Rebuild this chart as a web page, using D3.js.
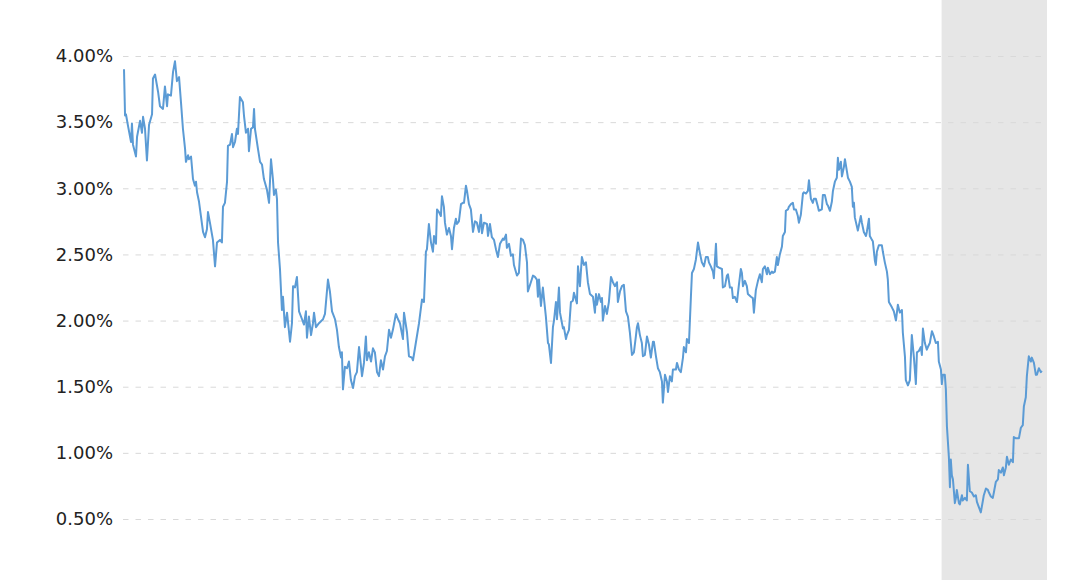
<!DOCTYPE html>
<html>
<head>
<meta charset="utf-8">
<script src="https://cdn.jsdelivr.net/npm/d3@7"></script>
<style>
  html, body { margin: 0; padding: 0; background: #fff; }
  .axis text { font-family: "DejaVu Sans", Verdana, sans-serif; font-size: 18px; fill: #222; }
  .axis .domain { display: none; }
  .axis line { stroke: #d9d9d9; stroke-dasharray: 5.5, 7; }
</style>
</head>
<body>
<div id="chart"></div>
<script>
// weekly 10-year yield (weeks since startDate)
var startDate = "2009-08-21";
var endDate = "2021-06-07";
var recession = ["2020-02-01", "2021-06-07"];
var yTicks = [0.5, 1.0, 1.5, 2.0, 2.5, 3.0, 3.5, 4.0];

var weeks = [
  0, 0.7, 1.3, 2.7, 4.7, 5.3, 6, 8, 8.7, 10.7, 12, 12.7, 14, 15.3, 16.7, 18.7, 19.3, 20.7, 22.7, 24,
  26, 27.3, 28.7, 29.3, 31.3, 32.7, 34, 35.3, 36.7, 38, 39.3, 40.7, 41.3, 42.7, 43.3, 44.7, 46, 47.3, 48, 48.7,
  50, 51.3, 52.7, 54, 55.3, 56, 57.3, 59.3, 60.7, 62, 64, 65.3, 66, 67.3, 68.7, 69.3, 70.7, 72, 72.7, 74,
  75.3, 76, 77.3, 79.3, 80, 81.3, 82.7, 83.3, 84.7, 86, 86.7, 87.3, 89.3, 90.7, 92, 93.3, 95.3, 96.7, 98, 99.3,
  100, 101.3,
  102, 102.7, 104, 105.3, 106, 107.3, 108.7, 110.7, 112, 112.7, 114, 115.3, 116.7, 118.7, 120, 121.3, 122, 123.3,
  124.7, 126, 126.7, 128, 130, 132.7, 134, 136, 137.3, 138.7, 140.7, 142, 143.3, 144.7, 145.3, 146, 147.3, 148.7,
  150, 151.3, 152.7, 154, 155.3, 156.7, 158.7, 160, 161.3, 162, 163.3, 164.7, 166, 167.3, 168.7, 170, 171.3,
  172.7, 174, 175.3, 176.7, 178, 179.3, 181.3, 182.7, 184, 186, 186.7, 188.7, 190, 192, 192.7, 194.7, 196.7,
  198.7, 200, 201.3, 202, 203.3, 204.7, 206, 206.7, 208, 208.7, 210, 211.3, 212, 213.3, 214, 215.3, 216.7, 218,
  218.7, 220, 221.3, 222, 223.3, 224.7, 226, 226.7, 228, 228.7, 230, 231.3, 232.7, 234, 235.3, 236.7, 238, 238.7,
  240, 242, 242.7, 244, 245.3, 246.7, 248, 249.3, 250.7, 252.7, 253.3, 254.7, 255.3, 256.7, 258, 259.3, 260, 262,
  263.3, 264.7, 266, 267.3, 268.7, 269.3, 271.3, 272.7, 274, 275.3, 276, 276.7, 278, 279.3, 280, 281.3, 282.7,
  283.3, 284.7, 286, 286.7, 288, 288.7, 290, 290.7, 292.7, 293.3, 294.7, 295.3, 296.7, 298, 299.3, 300, 302, 302.7,
  304, 305.3, 306.7, 308, 309.3, 310.7, 312.7, 314, 314.7, 315.3, 316.7, 318, 318.7, 319.3, 320.7, 322, 323.3,
  324.7, 326, 327.3, 328.7, 329.3, 330.7, 332, 333.3, 334.7, 336, 337.3, 338.7, 340, 341.3, 342, 342.7, 344, 345.3,
  346, 347.3, 348.7, 350, 351.3, 352.7, 353.3, 354.7, 356, 357.3, 358.7, 359.3, 360.7, 362, 362.7, 364, 365.3, 366,
  368, 368.7, 370, 371.3, 372.7, 373.3, 374.7, 375.3, 376.7, 378, 378.7, 380, 381.3, 382.7, 384, 385.3, 386.7, 388,
  389.3, 390, 391.3, 392.7, 393.3, 394.7, 395.3, 396.7, 398.7, 399.3, 400.7, 402, 402.7, 404, 405.3, 406, 407.3,
  408.7, 410,
  411.3, 412, 412.7, 414, 415.3, 416, 418, 419.3, 420, 421.3, 422.7, 424, 425.3, 426, 427.3, 428.7, 429.3, 430.7,
  432, 432.7, 434, 435.3, 436, 437.3, 438.7, 439.3, 440.7, 441.3, 442.7, 443.3, 444.7, 446, 446.7, 448, 449.3, 450,
  451.3, 452.7, 453.3, 454.7, 456, 456.7, 458, 459.3, 460, 461.3, 462.7, 463.3, 465.3, 466, 467.3, 468.7, 469.3,
  470.7, 472, 472.7, 474, 475.3, 476, 476.7, 478, 478.7, 480, 480.7, 482, 482.7, 484, 485.3, 486, 486.7, 487.3,
  488.7, 489.3, 491.3, 492, 493.3, 494.7, 495.3, 496.7, 497.3, 498.7, 499.3, 500.7, 501.3, 502, 503.3, 505.3, 506,
  507.3, 508.7, 509.3,
  510, 512, 513.3, 514.7, 516, 517.3, 518.7, 519.3, 520.7, 521.3, 522.7, 524, 525.3, 526.7, 528, 528.7, 530, 531.3,
  532, 532.7, 534, 535.3, 536, 537.3, 538.7, 540, 541.3, 542.7, 543.3, 544.7, 545.3, 546, 547.3, 548, 548.7, 550,
  550.7, 551.3, 552, 552.7, 554, 554.7, 555.3, 556.7, 557.3, 558.7, 559.3, 560.7, 562, 562.7, 564, 565.3, 566.7,
  568, 568.7, 570, 571.3, 572.7, 573.3, 574.7, 576, 576.7, 578, 579.3, 580, 581.3, 582.7, 583.3, 584.7, 586, 586.7,
  588, 588.7, 590, 591.3, 592.7, 593.3, 594.7, 596, 596.7, 598, 599.3, 600, 601.3, 602, 603.3, 604.7, 605.3, 606.7,
  608, 608.7, 610, 611.3, 612
];

var yields = [
  3.90, 3.55, 3.56, 3.47, 3.35, 3.49, 3.33, 3.24, 3.39, 3.51, 3.42, 3.54, 3.45, 3.21, 3.48, 3.56, 3.83, 3.86, 3.73, 3.62,
  3.60, 3.77, 3.62, 3.71, 3.70, 3.88, 3.96, 3.81, 3.84, 3.65, 3.45, 3.30, 3.20, 3.25, 3.22, 3.24, 3.07, 3.02, 3.05, 2.97,
  2.90, 2.79, 2.67, 2.63, 2.69, 2.82, 2.74, 2.61, 2.41, 2.59, 2.61, 2.59, 2.86, 2.89, 3.05, 3.32, 3.33, 3.41, 3.31, 3.35,
  3.45, 3.41, 3.69, 3.65, 3.55, 3.42, 3.45, 3.28, 3.45, 3.46, 3.60, 3.45, 3.30, 3.20, 3.18, 3.07, 2.99, 2.89, 3.22, 3.07,
  2.95, 2.99,
  2.92, 2.59, 2.39, 2.08, 2.18, 1.95, 2.06, 1.84, 1.98, 2.26, 2.25, 2.33, 2.07, 2.01, 1.97, 2.07, 1.87, 2.03,
  1.89, 1.98, 2.06, 1.95, 1.98, 2.01, 2.05, 2.31, 2.22, 2.07, 2.01, 1.93, 1.80, 1.72, 1.76, 1.48, 1.65, 1.64,
  1.69, 1.55, 1.49, 1.58, 1.61, 1.80, 1.58, 1.68, 1.88, 1.70, 1.76, 1.69, 1.79, 1.76, 1.61, 1.58, 1.70,
  1.63, 1.73, 1.77, 1.93, 1.87, 1.93, 2.05, 2.01, 1.98, 1.86, 2.06, 1.91, 1.73, 1.72, 1.70, 1.84, 1.98,
  2.16, 2.14, 2.52, 2.54, 2.73, 2.59, 2.52, 2.64, 2.58, 2.84, 2.82, 2.79, 2.94, 2.86, 2.74, 2.65, 2.70, 2.64,
  2.54, 2.70, 2.77, 2.73, 2.75, 2.88, 2.89, 2.89, 3.02, 2.98, 2.88, 2.84, 2.67, 2.75, 2.74, 2.67, 2.80, 2.66,
  2.74, 2.73, 2.64, 2.73, 2.63, 2.61, 2.54, 2.48, 2.58, 2.62, 2.61, 2.65, 2.55, 2.58, 2.49, 2.50, 2.42, 2.34,
  2.36, 2.62, 2.61, 2.57, 2.44, 2.22, 2.29, 2.34, 2.33, 2.31, 2.18, 2.31, 2.11, 2.25, 2.17, 2.03, 1.83,
  1.82, 1.68, 1.95, 2.00, 2.14, 2.01, 2.25, 2.06, 1.94, 1.95, 1.86, 1.89, 1.93, 2.14, 2.15, 2.21, 2.13, 2.41,
  2.26, 2.48, 2.42, 2.44, 2.29, 2.20, 2.18, 2.06, 2.20, 2.12, 2.20, 2.14, 2.17, 2.00, 2.11, 2.05, 2.14,
  2.33, 2.29, 2.26, 2.29, 2.14, 2.22, 2.26, 2.27, 2.07, 2.03, 1.91, 1.74, 1.76, 1.88, 1.95, 1.98, 1.89, 1.83,
  1.73, 1.74, 1.88, 1.82, 1.72, 1.84, 1.84, 1.73, 1.64, 1.61, 1.54, 1.38, 1.59, 1.54, 1.46, 1.58, 1.54, 1.63,
  1.63, 1.68, 1.63, 1.61, 1.72, 1.80, 1.76, 1.86, 1.83, 2.18, 2.36, 2.39, 2.46, 2.59, 2.51, 2.44, 2.41, 2.48,
  2.48, 2.44, 2.41, 2.37, 2.32, 2.58, 2.41, 2.40, 2.39, 2.25, 2.26, 2.34, 2.35, 2.25, 2.25, 2.17, 2.18,
  2.14, 2.27,
  2.39, 2.36, 2.26, 2.30, 2.26, 2.20, 2.18, 2.17, 2.06, 2.23, 2.30, 2.35, 2.29, 2.39, 2.41, 2.35, 2.40, 2.35,
  2.37, 2.36, 2.37, 2.48, 2.42, 2.50, 2.56, 2.64, 2.67, 2.83, 2.84, 2.86, 2.88, 2.89, 2.84, 2.84, 2.79, 2.74,
  2.80, 2.96, 2.97, 2.96, 2.98, 3.06, 2.92, 2.89, 2.92, 2.92, 2.86, 2.83, 2.84, 2.95, 2.95, 2.88, 2.87,
  2.83, 2.90, 2.98, 3.05, 3.08, 3.23, 3.14, 3.20, 3.09, 3.16, 3.22, 3.13, 3.08, 3.05, 3.01, 2.86, 2.89, 2.78,
  2.71, 2.68, 2.79, 2.74, 2.67, 2.64, 2.67, 2.77, 2.64, 2.61, 2.60, 2.45, 2.42, 2.52, 2.57, 2.57, 2.52,
  2.44, 2.37, 2.31,
  2.14, 2.10, 2.07, 2.00, 2.12, 2.06, 2.08, 1.91, 1.73, 1.55, 1.51, 1.55, 1.89, 1.72, 1.52, 1.76, 1.77, 1.80,
  1.74, 1.94, 1.83, 1.78, 1.80, 1.83, 1.92, 1.88, 1.83, 1.84, 1.69, 1.63, 1.52, 1.59, 1.59, 1.48, 1.20, 0.97,
  0.74, 0.95, 0.83, 0.80, 0.62, 0.66, 0.72, 0.62, 0.61, 0.68, 0.64, 0.66, 0.64, 0.91, 0.71, 0.70, 0.67,
  0.68, 0.63, 0.59, 0.55, 0.64, 0.68, 0.73, 0.72, 0.70, 0.67, 0.66, 0.70, 0.78, 0.80, 0.87, 0.85, 0.89, 0.83,
  0.89, 0.97, 0.91, 0.95, 0.93, 1.12, 1.11, 1.11, 1.11, 1.19, 1.21, 1.35, 1.42, 1.58, 1.73, 1.69, 1.72, 1.68,
  1.59, 1.59, 1.64, 1.61, 1.62
];

var width = 1067, height = 580;
var margin = {top: 0, right: 20, bottom: 0, left: 123};

var parseDate = d3.timeParse("%Y-%m-%d");
var t0 = parseDate(startDate);
var data = weeks.map(function (w, i) {
    return {date: d3.timeHour.offset(t0, Math.round(w * 7 * 24)), value: yields[i]};
});

var x = d3.scaleTime()
    .domain([t0, parseDate(endDate)])
    .range([margin.left + 1, width - margin.right]);

var y = d3.scaleLinear()
    .domain([0.5, 4.0])
    .range([519, 56]);

var svg = d3.select("#chart").append("svg")
    .attr("width", width)
    .attr("height", height);

// recession band
svg.append("rect")
    .attr("x", x(parseDate(recession[0])))
    .attr("y", 0)
    .attr("width", x(parseDate(recession[1])) - x(parseDate(recession[0])))
    .attr("height", height)
    .style("fill", "#e6e6e6");

// y axis with dashed grid lines
svg.append("g")
    .attr("class", "axis")
    .attr("transform", "translate(" + margin.left + ",0)")
    .call(d3.axisLeft(y)
        .tickValues(yTicks)
        .tickSize(-(width - margin.right - margin.left - 4))
        .tickPadding(10)
        .tickFormat(function (d) { return d3.format(".2f")(d) + "%"; }));

var line = d3.line()
    .x(function (d) { return x(d.date); })
    .y(function (d) { return y(d.value); });

svg.append("path")
    .datum(data)
    .attr("d", line)
    .style("fill", "none")
    .style("stroke", "#5b9bd5")
    .style("stroke-width", 2)
    .style("stroke-linejoin", "round");
</script>
</body>
</html>
